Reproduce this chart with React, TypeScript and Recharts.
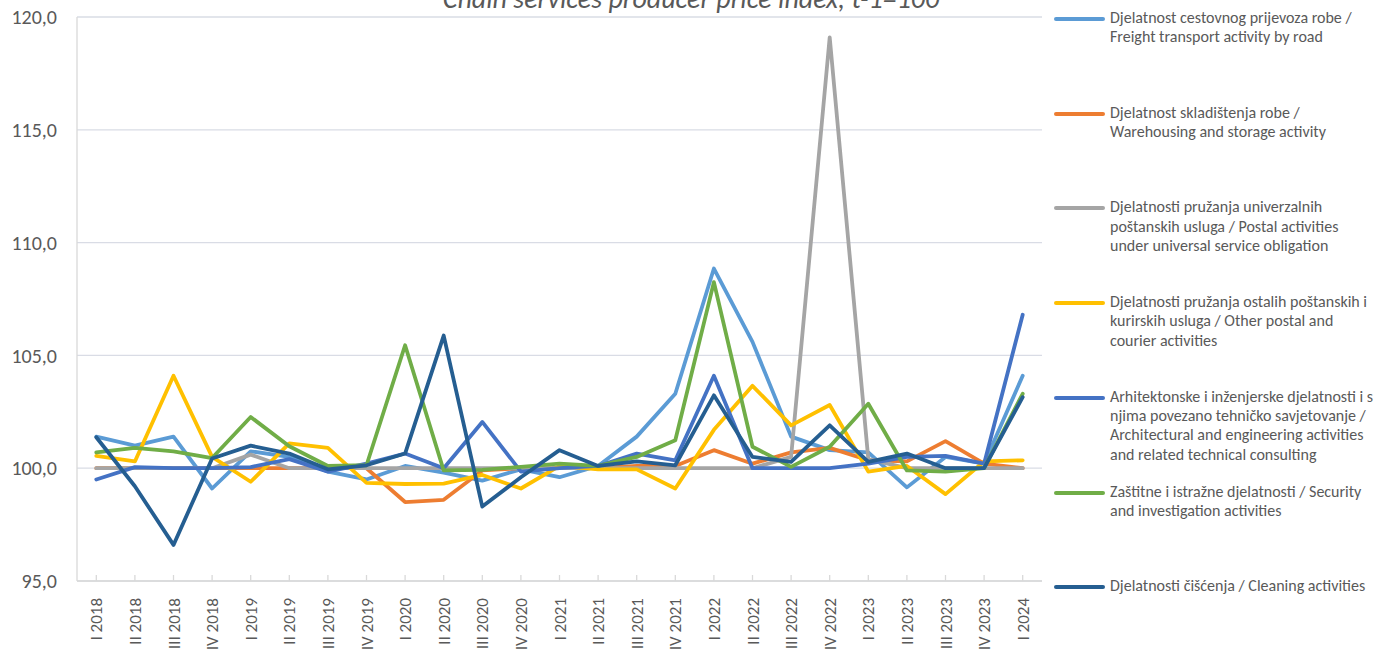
import React from "react";
import { LineChart, Line, XAxis, YAxis, CartesianGrid } from "recharts";

const QUARTERS = [
  "I 2018", "II 2018", "III 2018", "IV 2018",
  "I 2019", "II 2019", "III 2019", "IV 2019",
  "I 2020", "II 2020", "III 2020", "IV 2020",
  "I 2021", "II 2021", "III 2021", "IV 2021",
  "I 2022", "II 2022", "III 2022", "IV 2022",
  "I 2023", "II 2023", "III 2023", "IV 2023",
  "I 2024",
];

const FREIGHT = [101.4, 101.0, 101.4, 99.1, 100.75, 100.5, 99.85, 99.5, 100.1, 99.8, 99.45, 99.95, 99.6, 100.1, 101.4, 103.3, 108.85, 105.6, 101.4, 100.8, 100.7, 99.15, 100.5, 100.2, 104.1];
const WAREHOUSING = [100.0, 100.0, 100.0, 100.0, 100.0, 100.0, 100.0, 100.0, 98.5, 98.6, 99.9, 100.0, 100.0, 100.0, 100.1, 100.1, 100.8, 100.2, 100.7, 100.9, 100.35, 100.3, 101.2, 100.2, 100.0];
const POSTAL_UNIVERSAL = [100.0, 100.0, 100.0, 100.0, 100.6, 100.0, 100.0, 100.0, 100.0, 100.0, 100.0, 100.0, 100.0, 100.0, 100.0, 100.0, 100.0, 100.0, 100.5, 119.1, 100.4, 100.0, 100.0, 100.0, 100.0];
const POSTAL_OTHER = [100.55, 100.3, 104.1, 100.5, 99.4, 101.1, 100.9, 99.35, 99.3, 99.32, 99.7, 99.1, 100.1, 99.95, 99.95, 99.1, 101.7, 103.65, 101.9, 102.8, 99.85, 100.1, 98.85, 100.3, 100.35];
const ARCHITECTURAL = [99.5, 100.05, 100.0, 100.0, 100.05, 100.4, 99.85, 100.2, 100.65, 100.0, 102.05, 99.85, 100.0, 100.1, 100.65, 100.35, 104.1, 100.0, 100.0, 100.0, 100.2, 100.5, 100.55, 100.2, 106.8];
const SECURITY = [100.7, 100.9, 100.75, 100.45, 102.27, 100.97, 100.1, 100.13, 105.45, 99.9, 99.93, 100.06, 100.2, 100.1, 100.5, 101.24, 108.25, 100.95, 100.06, 100.95, 102.86, 99.9, 99.85, 100.0, 103.3];
const CLEANING = [101.37, 99.2, 96.6, 100.43, 101.0, 100.65, 99.95, 100.13, 100.65, 105.88, 98.3, 99.6, 100.8, 100.1, 100.3, 100.13, 103.23, 100.5, 100.28, 101.9, 100.28, 100.65, 100.0, 100.0, 103.15];

const Y_TICKS = [95, 100, 105, 110, 115, 120];

const SERIES = [
  { key: "freight", values: FREIGHT, color: "#5B9BD5", lines: ["Djelatnost cestovnog prijevoza robe /", "Freight transport activity by road"] },
  { key: "warehousing", values: WAREHOUSING, color: "#ED7D31", lines: ["Djelatnost skladištenja robe /", "Warehousing and storage activity"] },
  { key: "postalUniversal", values: POSTAL_UNIVERSAL, color: "#A5A5A5", lines: ["Djelatnosti pružanja univerzalnih", "poštanskih usluga / Postal activities", "under universal service obligation"] },
  { key: "postalOther", values: POSTAL_OTHER, color: "#FFC000", lines: ["Djelatnosti pružanja ostalih poštanskih i", "kurirskih usluga / Other postal and", "courier activities"] },
  { key: "architectural", values: ARCHITECTURAL, color: "#4472C4", lines: ["Arhitektonske i inženjerske djelatnosti i s", "njima povezano tehničko savjetovanje /", "Architectural and engineering activities", "and related technical consulting"] },
  { key: "security", values: SECURITY, color: "#70AD47", lines: ["Zaštitne i istražne djelatnosti / Security", "and investigation activities"] },
  { key: "cleaning", values: CLEANING, color: "#255E91", lines: ["Djelatnosti čišćenja / Cleaning activities"] },
];

const data = QUARTERS.map((q, i) => {
  const row: Record<string, string | number> = { quarter: q };
  SERIES.forEach((s) => { row[s.key] = s.values[i]; });
  return row;
});

const FONT = "Carlito, Calibri, 'Open Sans', sans-serif";
const TEXT = "#595959";

function QuarterTick({ x, y, payload }: any) {
  return (
    <g>
      <line x1={x} y1={y} x2={x} y2={y - 6} stroke="#D9D9D9" strokeWidth={1.3} />
      <text
        x={0}
        y={0}
        transform={`translate(${x + 6},${y + 17}) rotate(-90)`}
        textAnchor="end"
        fontSize={17}
        fontFamily={FONT}
        fill={TEXT}
      >
        {payload.value}
      </text>
    </g>
  );
}

export default function App() {
  return (
    <div style={{ position: "absolute", left: 0, top: 0, width: 1378, height: 658, background: "#fff", overflow: "hidden" }}>
      <div
        style={{
          position: "absolute", left: 0, width: 1378, top: -15, textAlign: "center",
          fontFamily: FONT, fontStyle: "italic", fontSize: 28, lineHeight: "28px", color: TEXT,
        }}
      >
        <span style={{ position: "relative", left: 2 }}>Chain services producer price index, t-1=100</span>
      </div>
      <LineChart width={1378} height={658} data={data} margin={{ top: 17, right: 336, bottom: 0, left: 0 }}>
        <CartesianGrid vertical={false} stroke="#D9DCE5" strokeWidth={1.3} />
        <XAxis
          dataKey="quarter"
          interval={0}
          height={77}
          padding={{ left: 19.3, right: 19.3 }}
          stroke="#D9D9D9"
          strokeWidth={1.3}
          tickLine={false}
          tickSize={0}
          tickMargin={0}
          tick={<QuarterTick />}
        />
        <YAxis
          domain={[95, 120]}
          ticks={Y_TICKS}
          width={77}
          stroke="#D9D9D9"
          strokeWidth={1.3}
          tickLine={false}
          tickSize={0}
          tickMargin={20}
          tickFormatter={(v: number) => v.toFixed(1).replace(".", ",")}
          tick={{ fontSize: 20, fontFamily: FONT, fill: TEXT }}
          allowDataOverflow
        />
        {SERIES.map((s) => (
          <Line
            key={s.key}
            dataKey={s.key}
            stroke={s.color}
            strokeWidth={3.8}
            strokeLinejoin="round"
            strokeLinecap="round"
            dot={false}
            activeDot={false}
            isAnimationActive={false}
          />
        ))}
      </LineChart>
      {SERIES.map((s, i) => (
        <div
          key={s.key}
          style={{ position: "absolute", left: 1054, top: 8 + i * 94.7, display: "flex", alignItems: "flex-start" }}
        >
          <div style={{ width: 51, height: 4, borderRadius: 2, background: s.color, marginTop: 9, marginRight: 5 }} />
          <div style={{ fontFamily: FONT, fontSize: 16, lineHeight: "19.3px", color: TEXT, whiteSpace: "nowrap" }}>
            {s.lines.map((l) => (
              <div key={l}>{l}</div>
            ))}
          </div>
        </div>
      ))}
    </div>
  );
}
